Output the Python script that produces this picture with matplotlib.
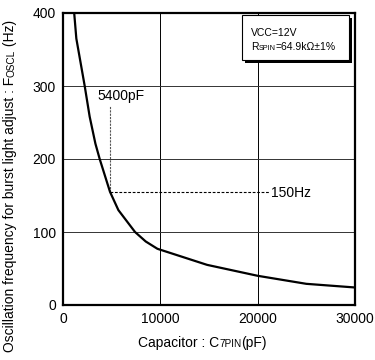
import matplotlib
matplotlib.use('Agg')
import matplotlib.pyplot as plt
from matplotlib.patches import Rectangle

plt.rcParams['font.family'] = ['Liberation Sans', 'DejaVu Sans']

# curve
cap_pf = [1150, 1370, 2230, 2740, 3330, 3770, 4830, 5690, 7400, 8500,
          9700, 14800, 20000, 25000, 30000]
freq_hz = [400, 365, 300, 258, 221, 200, 155, 130, 100, 87,
           77, 55, 40, 29, 24]

mark_cap = 4850
mark_freq = 155
mark_top = 272
mark_right = 21300

xticks = [0, 10000, 20000, 30000]
yticks = [0, 100, 200, 300, 400]

W, H = 375, 360
fig = plt.figure(figsize=(W / 100, H / 100), dpi=100)
ax = fig.add_axes([63 / W, 1 - 305 / H, (355 - 63) / W, (305 - 13) / H])

ax.set_xlim(0, 30000)
ax.set_ylim(0, 400)
ax.set_xticks(xticks)
ax.set_yticks(yticks)
ax.tick_params(length=0, labelsize=10, pad=5)
for s in ax.spines.values():
    s.set_linewidth(1.6)
for v in [10000, 20000]:
    ax.axvline(v, color='black', lw=0.7, zorder=1)
for v in [100, 200, 300]:
    ax.axhline(v, color='#333333', lw=0.7, zorder=1)

ax.plot(cap_pf, freq_hz, color='black', lw=1.6, zorder=3)

ax.plot([mark_cap, mark_cap], [mark_freq, mark_top], color='#555555',
        lw=0.8, ls=(0, (2, 1)), zorder=2)
ax.plot([mark_cap, mark_right], [mark_freq, mark_freq], color='black',
        lw=0.8, ls=(0, (2.5, 1.5)), zorder=2)
ax.text(mark_cap - 1300, 277, '5400pF', fontsize=10, va='bottom', ha='left')
ax.text(mark_right + 100, mark_freq - 2, '150Hz', fontsize=10, va='center', ha='left')

# condition box with shadow
def px2ax(x, y):
    return (x - 63) / (355 - 63), (305 - y) / (305 - 13)

x0, y0 = px2ax(242, 60)
x1, y1 = px2ax(349, 15)
ax.add_patch(Rectangle((x0 + 0.009, y0 - 0.011), x1 - x0, y1 - y0,
                       transform=ax.transAxes, facecolor='black',
                       edgecolor='black', lw=0, zorder=4, clip_on=False))
ax.add_patch(Rectangle((x0, y0), x1 - x0, y1 - y0, transform=ax.transAxes,
                       facecolor='white', edgecolor='black', lw=0.8,
                       zorder=5, clip_on=False))

fig.canvas.draw()
r = fig.canvas.get_renderer()


def mixed(parts, x, y, rot=0):
    # parts: list of (text, size); x, y in figure pixels from top-left
    for txt, size in parts:
        t = fig.text(x / W, 1 - y / H, txt, fontsize=size, rotation=rot,
                     rotation_mode='anchor', ha='left', va='baseline', zorder=6)
        bb = t.get_window_extent(r)
        if rot == 0:
            x += bb.width
        else:
            y -= bb.height


mixed([('VCC=12V', 7.5)], 251, 36)
mixed([('R', 7.5), ('SPIN', 5.2), ('=64.9k\u03a9\u00b11%', 7.5)], 251, 50)

mixed([('Capacitor : C', 10), ('7PIN', 7.2), ('(pF)', 10)], 138, 347)
mixed([('Oscillation frequency for burst light adjust : F', 10),
       ('OSCL', 7.2), (' (Hz)', 10)], 14, 352, rot=90)

fig.savefig('out.png', dpi=100)
